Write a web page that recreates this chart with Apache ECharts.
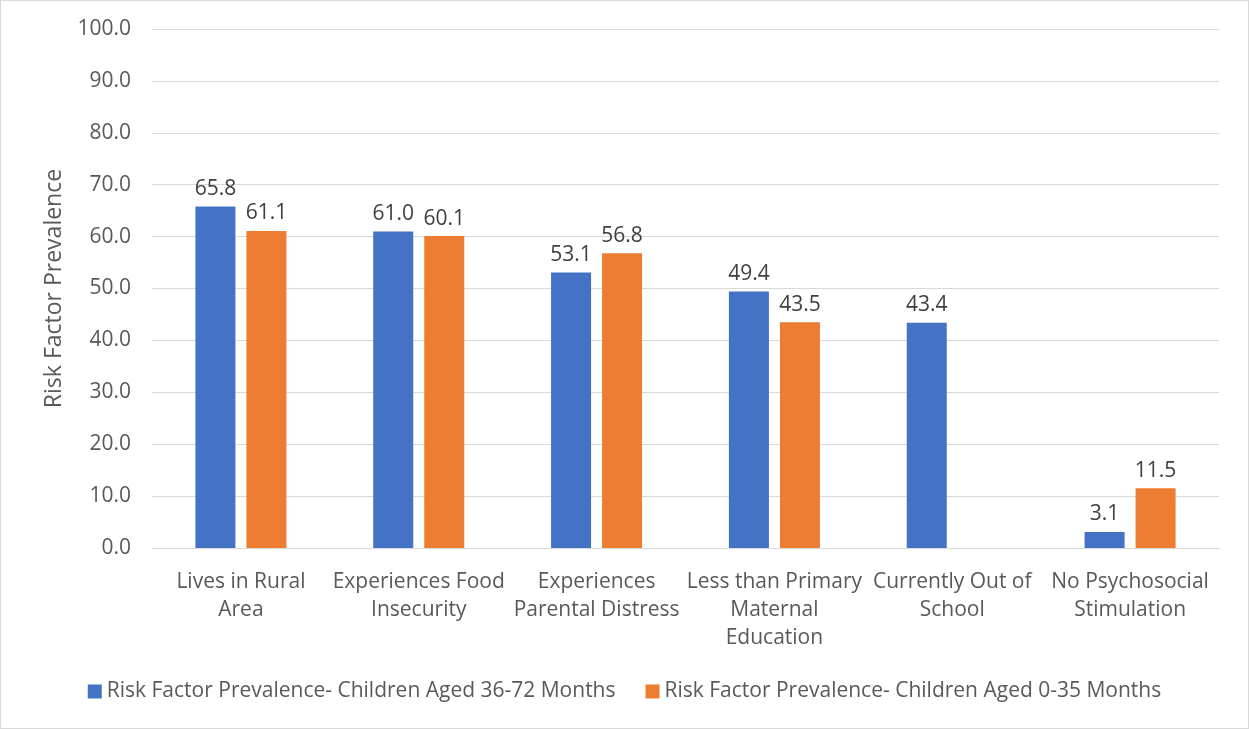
<!DOCTYPE html>
<html>
<head>
<meta charset="utf-8">
<script src="https://cdn.jsdelivr.net/npm/echarts@6/dist/echarts.min.js"></script>
<style>
  html, body { margin: 0; padding: 0; background: #fff; }
  #chart { width: 1249px; height: 729px; box-sizing: border-box; border: 1px solid #d9d9d9; }
</style>
</head>
<body>
<div id="chart"></div>
<script>
const categories = [
  'Lives in Rural\nArea',
  'Experiences Food\nInsecurity',
  'Experiences\nParental Distress',
  'Less than Primary\nMaternal\nEducation',
  'Currently Out of\nSchool',
  'No Psychosocial\nStimulation'
]
const older = [65.8, 61.0, 53.1, 49.4, 43.4, 3.1]
const younger = [61.1, 60.1, 56.8, 43.5, null, 11.5]
const seriesNames = [
  'Risk Factor Prevalence- Children Aged 36-72 Months',
  'Risk Factor Prevalence- Children Aged 0-35 Months'
]

const font = '"Open Sans", sans-serif'
const textColor = '#595959'

const chart = echarts.init(document.getElementById('chart'))

const labelOpt = {
  show: true,
  position: 'top',
  distance: 7,
  color: '#404040',
  fontSize: 21,
  fontFamily: font,
  formatter: p => p.value == null ? '' : Number(p.value).toFixed(1)
}

chart.setOption({
  animation: false,
  textStyle: { fontFamily: font },
  grid: { left: 151, right: 29, top: 28, bottom: 180, containLabel: false },
  legend: {
    bottom: 21,
    left: 'center',
    itemWidth: 14,
    itemHeight: 14,
    itemGap: 30,
    icon: 'rect',
    textStyle: { fontSize: 21, color: textColor, fontFamily: font },
    data: seriesNames
  },
  xAxis: {
    type: 'category',
    data: categories,
    axisTick: { show: false },
    axisLine: { lineStyle: { color: '#d9d9d9', width: 1 } },
    axisLabel: {
      color: textColor,
      fontSize: 21,
      fontFamily: font,
      margin: 20,
      lineHeight: 28,
      interval: 0
    }
  },
  yAxis: {
    type: 'value',
    min: 0,
    max: 100,
    interval: 10,
    name: 'Risk Factor Prevalence',
    nameLocation: 'middle',
    nameGap: 86,
    nameTextStyle: { fontSize: 23, color: textColor, fontFamily: font },
    axisLine: { show: false },
    axisTick: { show: false },
    axisLabel: {
      color: textColor,
      fontSize: 21,
      fontFamily: font,
      margin: 21,
      formatter: v => v.toFixed(1)
    },
    splitLine: { lineStyle: { color: '#d9d9d9', width: 1 } }
  },
  series: [
    {
      name: seriesNames[0],
      type: 'bar',
      data: older,
      barWidth: '22.5%',
      barGap: '27.5%',
      itemStyle: { color: '#4472c4' },
      label: labelOpt
    },
    {
      name: seriesNames[1],
      type: 'bar',
      data: younger,
      barWidth: '22.5%',
      itemStyle: { color: '#ed7d31' },
      label: labelOpt
    }
  ]
})

window.addEventListener('resize', () => chart.resize())
</script>
</body>
</html>
